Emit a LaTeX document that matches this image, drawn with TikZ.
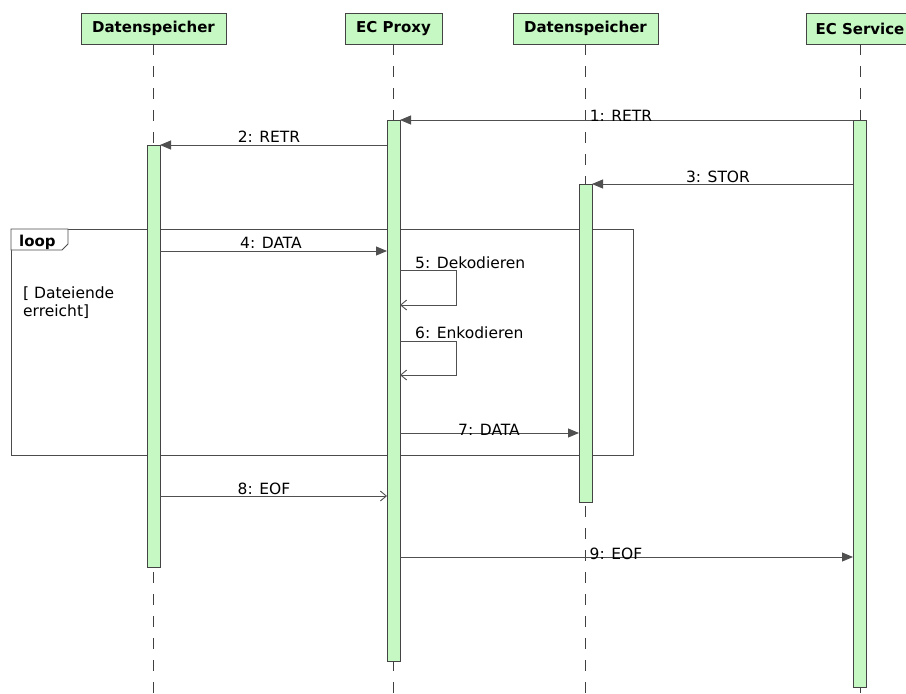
\documentclass[tikz,border=0pt]{standalone}
\usepackage{fontspec}
\setmainfont{DejaVu Sans}
\usetikzlibrary{arrows.meta}
\definecolor{actfill}{RGB}{198,248,196}
\definecolor{edge}{RGB}{68,68,68}
\definecolor{lineclr}{RGB}{80,80,80}
\tikzset{
  head/.style={draw=edge, line width=0.9pt, fill=actfill, minimum height=31pt, inner sep=0pt, font=\bfseries\fontsize{15}{18}\selectfont},
  bar/.style={draw=edge, line width=0.9pt, fill=actfill, minimum width=13pt, inner sep=0pt, anchor=north},
  life/.style={draw=black!75, line width=0.8pt, dash pattern=on 11pt off 11pt},
  msg/.style={draw=lineclr, line width=0.9pt, -{Triangle[length=11pt,width=9pt]}},
  amsg/.style={draw=lineclr, line width=0.9pt, -{Straight Barb[length=6pt,width=10pt]}},
  lbl/.style={font=\fontsize{15.5}{18}\selectfont, anchor=base, inner sep=0pt},
  frame/.style={draw=black!70, line width=0.8pt}
}
\begin{document}
\begin{tikzpicture}[x=1pt,y=-1pt]
\useasboundingbox (0,0) rectangle (906,694);
\clip (0,0) rectangle (906,694);
% headers
\node[head, minimum width=145pt] (h1) at (153.5,28.5) {Datenspeicher};
\node[head, minimum width=97pt] (h2) at (393.5,28.5) {EC Proxy};
\node[head, minimum width=145pt] (h3) at (585.5,28.5) {Datenspeicher};
\node[head, minimum width=108pt] (h4) at (860,28.5) {EC Service};
% lifeline ends
\coordinate (e1) at (153.5,694);
\coordinate (e2) at (393.5,694);
\coordinate (e3) at (585.5,694);
\coordinate (e4) at (860,694);
\draw[life] (h1.south) -- (e1);
\draw[life] (h2.south) -- (e2);
\draw[life] (h3.south) -- (e3);
\draw[life] (h4.south) -- (e4);
% loop frame
\coordinate (fa) at (11,229);
\coordinate (fb) at (633,455);
\draw[frame] (fa) rectangle (fb);
\coordinate (t1) at (68,229);
\coordinate (t2) at (68,244);
\coordinate (t3) at (62,250);
\coordinate (t4) at (11,250);
\draw[frame, fill=white] (fa) -- (t1) -- (t2) -- (t3) -- (t4) -- cycle;
\node[lbl, font=\bfseries\fontsize{15}{18}\selectfont, anchor=base west] (loopl) at (19,246) {loop};
\node[lbl, anchor=base west, align=left] (guard) at (23,298) {[ Dateiende};
\node[lbl, anchor=base west, align=left] (guard2) at (23,316) {erreicht]};
% activation bars
\node[bar, minimum height=541pt] (bP) at (393.5,120) {};
\node[bar, minimum height=567pt] (bS) at (859.5,120) {};
\node[bar, minimum height=422pt] (bA) at (153.5,145) {};
\node[bar, minimum height=318pt] (bB) at (585.5,184) {};
% message points
\coordinate (m1a) at (853,120); \coordinate (m1b) at (400,120);
\coordinate (m2a) at (387,145); \coordinate (m2b) at (160,145);
\coordinate (m3a) at (853,184); \coordinate (m3b) at (592,184);
\coordinate (m4a) at (160,251); \coordinate (m4b) at (387,251);
\coordinate (m5a) at (400,270); \coordinate (m5c) at (456,270); \coordinate (m5d) at (456,305); \coordinate (m5b) at (400,305);
\coordinate (m6a) at (400,341); \coordinate (m6c) at (456,341); \coordinate (m6d) at (456,375); \coordinate (m6b) at (400,375);
\coordinate (m7a) at (400,433); \coordinate (m7b) at (579,433);
\coordinate (m8a) at (160,496); \coordinate (m8b) at (387,496);
\coordinate (m9a) at (400,557); \coordinate (m9b) at (853,557);
% messages
\draw[msg] (m1a) -- (m1b);
\node[lbl] (l1) at (621,121) {1: RETR};
\draw[msg] (m2a) -- (m2b);
\node[lbl] (l2) at (269,142) {2: RETR};
\draw[msg] (m3a) -- (m3b);
\node[lbl] (l3) at (718,182) {3: STOR};
\draw[msg] (m4a) -- (m4b);
\node[lbl] (l4) at (271,248) {4: DATA};
\draw[amsg] (m5a) -- (m5c) -- (m5d) -- (m5b);
\node[lbl, anchor=base west] (l5) at (415,268) {5: Dekodieren};
\draw[amsg] (m6a) -- (m6c) -- (m6d) -- (m6b);
\node[lbl, anchor=base west] (l6) at (415,338) {6: Enkodieren};
\draw[msg] (m7a) -- (m7b);
\node[lbl] (l7) at (489,435) {7: DATA};
\draw[amsg] (m8a) -- (m8b);
\node[lbl] (l8) at (264,494) {8: EOF};
\draw[msg] (m9a) -- (m9b);
\node[lbl] (l9) at (616,559) {9: EOF};
\end{tikzpicture}
\end{document}
